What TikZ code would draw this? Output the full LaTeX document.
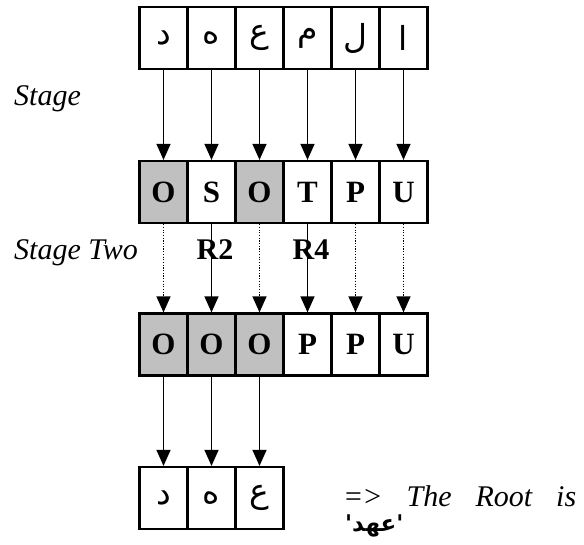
\documentclass[tikz,border=0pt]{standalone}
\usepackage{fontspec}
\setmainfont{Liberation Serif}
\newfontfamily\arabicfont[Script=Arabic]{DejaVu Sans}
\TeXXeTstate=1
\usetikzlibrary{arrows.meta}
\definecolor{boxgray}{HTML}{C0C0C0}

\begin{document}
\begin{tikzpicture}[x=1pt,y=-1pt,
  cell/.style={draw, line width=2.2pt, minimum width=48pt, minimum height=62pt,
    inner sep=0pt, font=\fontsize{31}{34}\selectfont\bfseries},
  shaded/.style={cell, fill=boxgray},
  arabcell/.style={cell, font=\fontsize{33}{36}\selectfont\arabicfont},
  label/.style={inner sep=0pt, anchor=base west, font=\fontsize{30}{34}\selectfont\itshape},
  rlabel/.style={inner sep=0pt, anchor=base, font=\fontsize{30}{34}\selectfont\bfseries},
  link/.style={line width=1.3pt, -{Triangle[width=14pt,length=16pt]}},
  weak/.style={link, dash pattern=on 1.2pt off 1.5pt}]
\useasboundingbox (0,0) rectangle (584,544);

% first row: the Arabic word, one letter per cell
\foreach \ch [count=\i] in {د,ه,ع,م,ل,ا}
  \node[arabcell] (a\i) at ({115.5+48*\i},38) {\ch};

% second row: tags
\node[shaded] (b1) at (163.5,192) {O};
\node[cell]   (b2) at (211.5,192) {S};
\node[shaded] (b3) at (259.5,192) {O};
\node[cell]   (b4) at (307.5,192) {T};
\node[cell]   (b5) at (355.5,192) {P};
\node[cell]   (b6) at (403.5,192) {U};

% third row: tags after the rules
\node[shaded] (c1) at (163.5,344.5) {O};
\node[shaded] (c2) at (211.5,344.5) {O};
\node[shaded] (c3) at (259.5,344.5) {O};
\node[cell]   (c4) at (307.5,344.5) {P};
\node[cell]   (c5) at (355.5,344.5) {P};
\node[cell]   (c6) at (403.5,344.5) {U};

% result row
\node[arabcell] (d1) at (163.5,498) {د};
\node[arabcell] (d2) at (211.5,498) {ه};
\node[arabcell] (d3) at (259.5,498) {ع};

% side labels
\node[label] (s1) at (14,105) {Stage};
\node[label] (s2) at (14,259) {Stage Two};
\node[rlabel] (r2) at (215,259) {R2};
\node[rlabel] (r4) at (311,259) {R4};

% connectors
\foreach \i in {1,...,6}
  \draw[link] (a\i) -- (b\i);
\foreach \i in {1,3,5,6}
  \draw[weak] (b\i) -- (c\i);
\foreach \i in {2,4}
  \draw[link] (b\i) -- (c\i);
\foreach \i in {1,2,3}
  \draw[link] (c\i) -- (d\i);

% conclusion
\node[inner sep=0pt, anchor=base west] (t1) at (343,506)
  {\makebox[233pt][s]{\fontsize{30}{34}\selectfont\itshape =\kern-1pt> The Root is}};
\node[inner sep=0pt, anchor=base west] (t2) at (345,531)
  {\fontsize{23}{26}\selectfont\arabicfont\bfseries\beginR 'عهد'\endR};
\end{tikzpicture}
\end{document}
